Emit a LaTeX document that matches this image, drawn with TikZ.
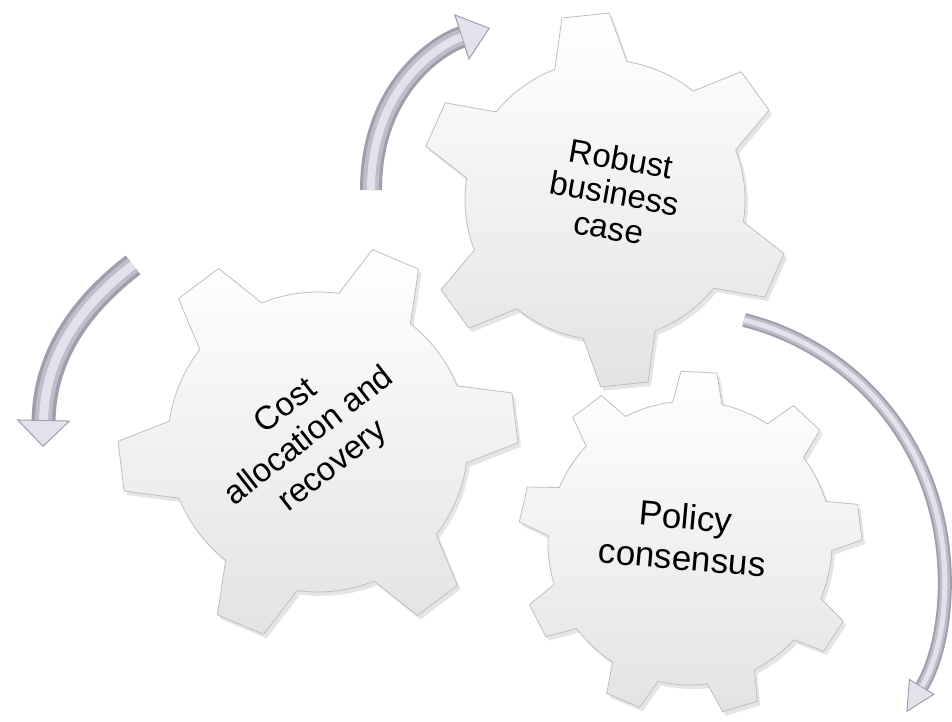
\documentclass[tikz,border=0pt]{standalone}
\usepackage{fontspec}
\setmainfont{Liberation Sans}
\usetikzlibrary{arrows.meta,shadows}

\definecolor{arrowdark}{RGB}{158,158,172}
\definecolor{arrowmid}{RGB}{190,190,202}
\definecolor{arrowlight}{RGB}{226,226,234}

% gear outline: options, centre, teeth, first tooth angle, body radius, tip radius, half base angle, half tip angle
\newcommand{\gearpath}[8]{%
  \draw[#1, shift={#2}] ({#4-#7}:#5pt)
    \foreach \k in {1,...,#3} {
      -- ({#4+(\k-1)*360/#3-#8}:#6pt) -- ({#4+(\k-1)*360/#3+#8}:#6pt)
      -- ({#4+(\k-1)*360/#3+#7}:#5pt)
      arc[start angle={#4+(\k-1)*360/#3+#7}, end angle={#4+\k*360/#3-#7}, radius=#5pt]
    } -- cycle;}

\begin{document}
\begin{tikzpicture}[x=1pt, y=1pt,
  gear/.style={draw=gray!50, line width=0.8pt, top color=white, bottom color=gray!22,
    drop shadow={shadow xshift=3pt, shadow yshift=-4pt, opacity=0.2}},
  gearlabel/.style={align=center, inner sep=0pt},
  arrowbody/.style={draw=arrowdark, line width=#1},
  arrowmiddle/.style={draw=arrowmid, line width=#1},
  arrowshine/.style={draw=arrowlight, line width=#1}]
  \path[use as bounding box, fill=white] (0,0) rectangle (952,722);

  % gears
  \gearpath{gear}{(605,522)}{6}{96}{140}{187}{15}{7.3}
  \gearpath{gear}{(318,280)}{6}{7}{150}{200}{15}{7.2}
  \gearpath{gear}{(690,179)}{9}{7}{142}{172}{10}{6}

  \node[gearlabel, rotate=-10, font=\fontsize{33}{35}\selectfont] (robust) at (615,529) {Robust\\business\\case};
  \node[gearlabel, rotate=38, font=\fontsize{33}{38}\selectfont] (cost) at (310,285) {Cost\\allocation and\\recovery};
  \node[gearlabel, rotate=-5, font=\fontsize{35}{41}\selectfont] (policy) at (684,185) {Policy\\consensus};

  % curved arrows
  \coordinate (upstart) at (371,532);
  \coordinate (upend) at (490,694);
  \draw[arrowbody=22pt, -{Triangle[width=48pt, length=30pt, fill=arrowlight, color=arrowdark, line width=1pt]}]
    (upstart) .. controls (371,635) and (440,678) .. (upend);
  \draw[arrowmiddle=16pt, shorten >=30pt] (upstart) .. controls (371,635) and (440,678) .. (upend);
  \draw[arrowshine=8pt, shorten >=30pt] (upstart) .. controls (371,635) and (440,678) .. (upend);

  \coordinate (leftstart) at (133,457);
  \coordinate (leftend) at (43,275);
  \draw[arrowbody=24pt, -{Triangle[width=54pt, length=27pt, fill=arrowlight, color=arrowdark, line width=1pt]}]
    (leftstart) .. controls (85,420) and (45,370) .. (leftend);
  \draw[arrowmiddle=17pt, shorten >=27pt] (leftstart) .. controls (85,420) and (45,370) .. (leftend);
  \draw[arrowshine=9pt, shorten >=27pt] (leftstart) .. controls (85,420) and (45,370) .. (leftend);

  \coordinate (rightstart) at (744,402);
  \draw[arrowbody=14pt, -{Triangle[width=30pt, length=30pt, fill=arrowlight, color=arrowdark, line width=1pt]}]
    (rightstart) arc[start angle=76, end angle=-31, radius=264pt];
  \draw[arrowmiddle=10pt, shorten >=30pt] (rightstart) arc[start angle=76, end angle=-31, radius=264pt];
  \draw[arrowshine=5pt, shorten >=30pt] (rightstart) arc[start angle=76, end angle=-31, radius=264pt];
\end{tikzpicture}
\end{document}
